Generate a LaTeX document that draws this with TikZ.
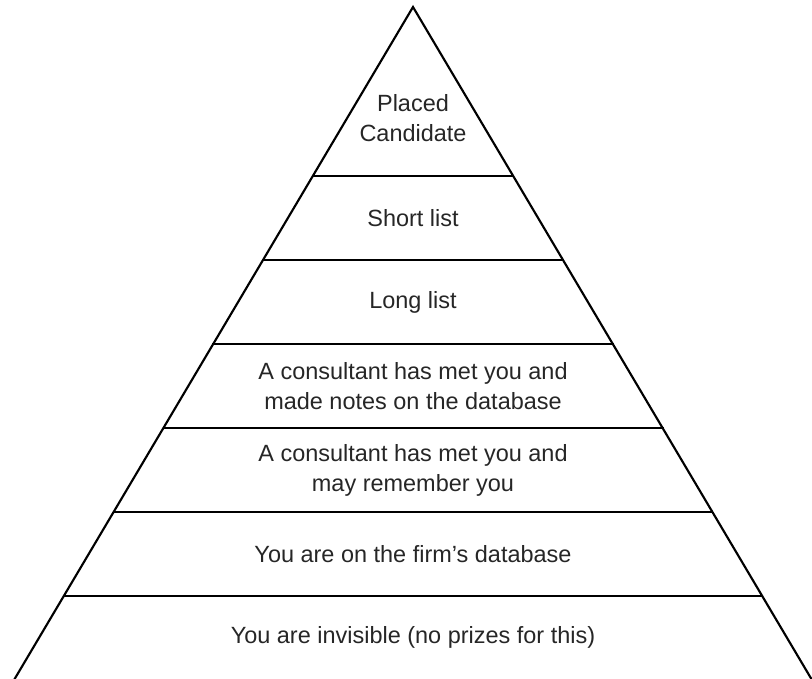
\documentclass[tikz,border=0pt]{standalone}
\usepackage{fontspec}
\setmainfont{Liberation Sans}
\begin{document}
\begin{tikzpicture}[x=0.75pt,y=-0.75pt,
  edge/.style={line width=1.6pt,line cap=round,line join=miter},
  tier/.style={line width=1.6pt},
  label/.style={align=center,text=black!85,font=\fontsize{17.6}{22.5}\selectfont,inner sep=0pt}]
\useasboundingbox (0,0) rectangle (812,678);
\begin{scope}
\clip (0,0) rectangle (812,678);
% outline of the pyramid
\coordinate (apex) at (413,7);
\draw[edge] (14,680) -- (apex) -- (812,680);
% horizontal dividers: x on the sides follows slope 0.595 per px
\foreach \y in {176,260,344,428,512,596}{
  \draw[tier] ({413-0.595*(\y-7)},\y) -- ({413+0.595*(\y-7)},\y);
}
\end{scope}
% tier labels
\node[label] (placed) at (413,118) {Placed\\Candidate};
\node[label] (short)  at (413,218) {Short list};
\node[label] (long)   at (413,302) {Long list};
\node[label] (notes)  at (413,386) {A consultant has met you and\\made notes on the database};
\node[label] (met)    at (413,470) {A consultant has met you and\\may remember you};
\node[label] (db)     at (413,554) {You are on the firm’s database};
\node[label] (invis)  at (413,637) {You are invisible (no prizes for this)};
\end{tikzpicture}
\end{document}
